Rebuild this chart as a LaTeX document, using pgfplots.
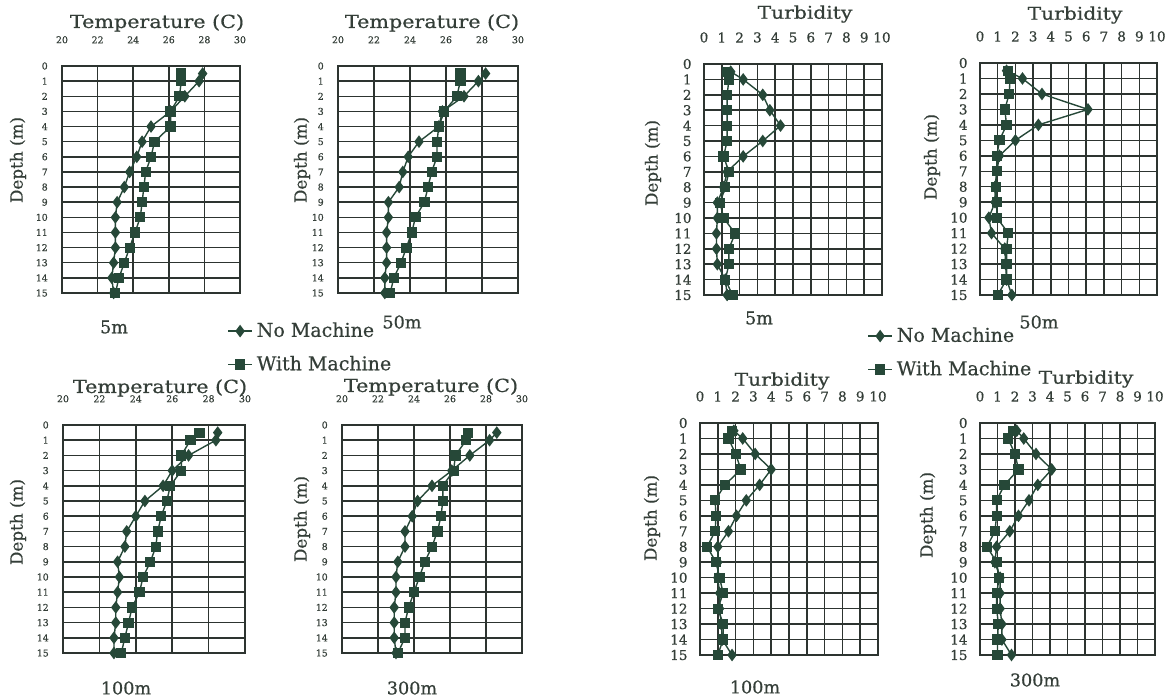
\documentclass[border=0pt]{standalone}
\usepackage{fontspec}
\setmainfont{DejaVu Serif}[FakeBold=0.6]
\newfontfamily\widef{DejaVu Serif}[FakeStretch=1.15, FakeBold=0.6]
\usepackage{pgfplots}
\pgfplotsset{compat=1.18}

\definecolor{inkc}{RGB}{52,62,56}
\definecolor{markc}{RGB}{38,72,56}
\definecolor{gridc}{RGB}{45,52,48}

\newcommand\titlef{\widef\fontsize{9}{10}\selectfont}
\newcommand\turbf{\widef\fontsize{8.8}{9.8}\selectfont}
\newcommand\depthf{\fontsize{8.4}{9.4}\selectfont}
\newcommand\capf{\fontsize{8.8}{9.8}\selectfont}
\newcommand\legf{\fontsize{9.5}{10.5}\selectfont}

\pgfplotsset{
  panel/.style={
    scale only axis, anchor=north west, clip=false,
    y dir=reverse, ymin=0, ymax=15, ytick={0,...,15},
    xticklabel pos=upper,
    grid=major, major grid style={draw=gridc, line width=0.75pt},
    axis line style={draw=gridc, line width=0.9pt},
    major tick length=0pt,
    tick label style={text=inkc},
    /pgf/number format/assume math mode=true,
  },
  tempax/.style={panel, xmin=20, xmax=30, xtick={20,22,...,30},
    tick label style={font=\fontsize{4.7}{5}\selectfont},
    x tick label style={anchor=south, yshift=7.8pt},
    y tick label style={xshift=-3.6pt}},
  turbax/.style={panel, xmin=0, xmax=10, xtick={0,...,10},
    tick label style={font=\fontsize{6.8}{7}\selectfont},
    x tick label style={anchor=south, yshift=7.2pt},
    y tick label style={xshift=-2.7pt}},
  nm/.style={color=markc, line width=0.7pt, mark=diamond*, mark size=2.6pt},
  wm/.style={color=markc, line width=0.7pt, mark=square*, mark size=2.2pt},
  mylegend/.style={legend cell align=left,
    legend image code/.code={\draw[mark repeat=2,mark phase=2,##1] plot coordinates {(0pt,0pt) (6pt,0pt) (12pt,0pt)};},
    legend style={draw=none, fill=none, font=\legf, text=inkc,
      row sep=4pt, inner sep=0pt, anchor=north west}},
}

\begin{document}
\begin{tikzpicture}
\path[use as bounding box] (0,0) rectangle (584.5pt,-349pt);

% Temperature 5m
\begin{axis}[tempax, at={(31pt,-33pt)}, width=89pt, height=113.5pt,
  mylegend, legend style={at={(0.927,-0.11)}}]
\addplot[nm] coordinates {(27.9,0.5)(27.7,1)(26.9,2)(26.1,3)(25.0,4)(24.5,5)(24.2,6)(23.8,7)(23.5,8)(23.1,9)(23.0,10)(23.0,11)(23.0,12)(22.9,13)(22.8,14)(22.9,15)};
\addplot[wm] coordinates {(26.7,0.5)(26.7,1)(26.6,2)(26.1,3)(26.1,4)(25.2,5)(25.0,6)(24.7,7)(24.6,8)(24.5,9)(24.4,10)(24.1,11)(23.8,12)(23.5,13)(23.2,14)(23.0,15)};
\legend{No Machine, With Machine}
\end{axis}

% Temperature 50m
\begin{axis}[tempax, at={(169pt,-33pt)}, width=90pt, height=113.5pt]
\addplot[nm] coordinates {(28.2,0.5)(27.8,1)(27.0,2)(25.8,3)(25.6,4)(24.5,5)(23.9,6)(23.6,7)(23.4,8)(22.8,9)(22.8,10)(22.7,11)(22.7,12)(22.7,13)(22.6,14)(22.6,15)};
\addplot[wm] coordinates {(26.8,0.5)(26.8,1)(26.6,2)(25.9,3)(25.6,4)(25.5,5)(25.5,6)(25.2,7)(25.0,8)(24.8,9)(24.3,10)(24.1,11)(23.8,12)(23.5,13)(23.1,14)(22.9,15)};
\end{axis}

% Turbidity 5m
\begin{axis}[turbax, at={(352pt,-32pt)}, width=89pt, height=115.5pt,
  mylegend, legend style={at={(0.916,-0.121)}}]
\addplot[nm] coordinates {(1.5,0.5)(2.2,1)(3.3,2)(3.7,3)(4.3,4)(3.3,5)(2.2,6)(1.3,7)(1.1,8)(0.75,9)(0.75,10)(0.7,11)(0.7,12)(0.75,13)(1.2,14)(1.3,15)};
\addplot[wm] coordinates {(1.3,0.5)(1.4,1)(1.3,2)(1.3,3)(1.3,4)(1.3,5)(1.1,6)(1.4,7)(1.2,8)(0.9,9)(1.1,10)(1.75,11)(1.4,12)(1.4,13)(1.2,14)(1.6,15)};
\legend{No Machine, With Machine}
\end{axis}

% Turbidity 50m
\begin{axis}[turbax, at={(490pt,-31.5pt)}, width=88.5pt, height=116pt]
\addplot[nm] coordinates {(1.5,0.5)(2.4,1)(3.5,2)(6.1,3)(3.3,4)(2.0,5)(1.1,6)(0.95,7)(0.85,8)(0.85,9)(0.5,10)(0.65,11)(1.4,12)(1.45,13)(1.5,14)(1.8,15)};
\addplot[wm] coordinates {(1.6,0.5)(1.7,1)(1.65,2)(1.4,3)(1.5,4)(1.1,5)(0.95,6)(0.95,7)(0.9,8)(0.95,9)(0.95,10)(1.6,11)(1.5,12)(1.5,13)(1.5,14)(1.0,15)};
\end{axis}

% Temperature 100m
\begin{axis}[tempax, at={(31.5pt,-212.5pt)}, width=91pt, height=114pt]
\addplot[nm] coordinates {(28.5,0.5)(28.4,1)(26.9,2)(26.0,3)(25.5,4)(24.5,5)(24.0,6)(23.5,7)(23.4,8)(23.0,9)(23.1,10)(23.0,11)(22.9,12)(22.9,13)(22.8,14)(22.8,15)};
\addplot[wm] coordinates {(27.5,0.5)(27.0,1)(26.5,2)(26.5,3)(25.9,4)(25.7,5)(25.4,6)(25.2,7)(25.1,8)(24.8,9)(24.4,10)(24.2,11)(23.8,12)(23.6,13)(23.4,14)(23.2,15)};
\end{axis}

% Temperature 300m
\begin{axis}[tempax, at={(171pt,-212.5pt)}, width=90pt, height=114pt]
\addplot[nm] coordinates {(28.6,0.5)(28.2,1)(27.1,2)(26.1,3)(25.0,4)(24.2,5)(23.9,6)(23.5,7)(23.5,8)(23.1,9)(23.0,10)(23.0,11)(22.9,12)(22.9,13)(22.9,14)(23.0,15)};
\addplot[wm] coordinates {(27.0,0.5)(26.9,1)(26.3,2)(26.2,3)(25.6,4)(25.6,5)(25.5,6)(25.3,7)(25.0,8)(24.6,9)(24.3,10)(24.0,11)(23.7,12)(23.5,13)(23.5,14)(23.1,15)};
\end{axis}

% Turbidity 100m
\begin{axis}[turbax, at={(350pt,-211.5pt)}, width=89pt, height=116pt]
\addplot[nm] coordinates {(1.9,0.5)(2.4,1)(3.1,2)(4.0,3)(3.35,4)(2.6,5)(2.05,6)(1.6,7)(1.0,8)(1.0,9)(1.0,10)(1.1,11)(1.1,12)(1.2,13)(1.25,14)(1.8,15)};
\addplot[wm] coordinates {(1.8,0.5)(1.6,1)(2.0,2)(2.3,3)(1.4,4)(0.85,5)(0.9,6)(0.85,7)(0.4,8)(0.9,9)(1.1,10)(1.3,11)(1.0,12)(1.3,13)(1.3,14)(1.0,15)};
\end{axis}

% Turbidity 300m
\begin{axis}[turbax, at={(490pt,-211.5pt)}, width=87.5pt, height=116pt]
\addplot[nm] coordinates {(2.1,0.5)(2.5,1)(3.2,2)(4.1,3)(3.3,4)(2.8,5)(2.2,6)(1.7,7)(0.95,8)(0.85,9)(1.15,10)(1.15,11)(1.15,12)(1.25,13)(1.25,14)(1.8,15)};
\addplot[wm] coordinates {(1.9,0.5)(1.6,1)(2.0,2)(2.2,3)(1.4,4)(0.95,5)(0.95,6)(0.85,7)(0.4,8)(0.95,9)(1.1,10)(0.95,11)(0.95,12)(1.05,13)(1.0,14)(1.0,15)};
\end{axis}

% titles
\begin{scope}[every node/.style={text=inkc}]
\node[font=\titlef] at (78.5pt,-11.5pt) {Temperature (C)};
\node[font=\titlef] at (216pt,-11.5pt) {Temperature (C)};
\node[font=\titlef] at (80pt,-194pt) {Temperature (C)};
\node[font=\titlef] at (215.5pt,-193.5pt) {Temperature (C)};
\node[font=\turbf] at (402.5pt,-7pt) {Turbidity};
\node[font=\turbf] at (537.5pt,-7.5pt) {Turbidity};
\node[font=\turbf] at (391pt,-190.5pt) {Turbidity};
\node[font=\turbf] at (543pt,-189.5pt) {Turbidity};
% depth labels
\node[font=\depthf, rotate=90] at (9pt,-80pt) {Depth (m)};
\node[font=\depthf, rotate=90] at (151pt,-80pt) {Depth (m)};
\node[font=\depthf, rotate=90] at (326.5pt,-81.5pt) {Depth (m)};
\node[font=\depthf, rotate=90] at (466pt,-78.5pt) {Depth (m)};
\node[font=\depthf, rotate=90] at (9pt,-261pt) {Depth (m)};
\node[font=\depthf, rotate=90] at (151pt,-259.5pt) {Depth (m)};
\node[font=\depthf, rotate=90] at (326pt,-259pt) {Depth (m)};
\node[font=\depthf, rotate=90] at (464pt,-257.5pt) {Depth (m)};
% captions
\node[font=\capf] at (57pt,-163.5pt) {5m};
\node[font=\capf] at (201pt,-161pt) {50m};
\node[font=\capf] at (379.5pt,-159pt) {5m};
\node[font=\capf] at (519.5pt,-161pt) {50m};
\node[font=\capf] at (63pt,-344pt) {100m};
\node[font=\capf] at (206pt,-344pt) {300m};
\node[font=\capf] at (377.5pt,-343.5pt) {100m};
\node[font=\capf] at (517.5pt,-340pt) {300m};
\end{scope}
\end{tikzpicture}
\end{document}
